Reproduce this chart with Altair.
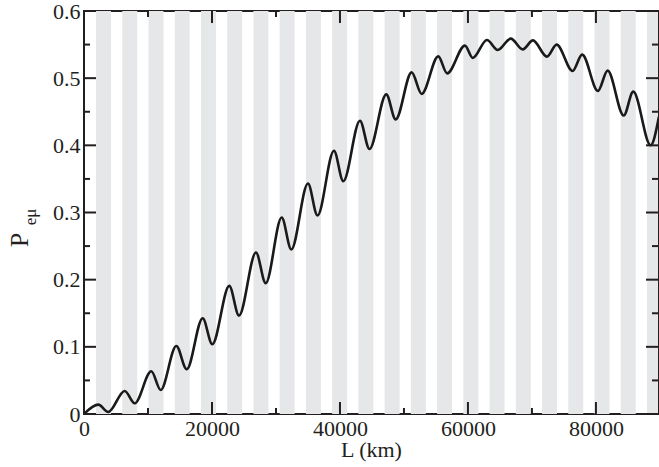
import altair as alt
import pandas as pd

# curve: local extrema
L_km = [0, 2234, 3797, 6359, 7922, 10516, 11984, 14422, 16047, 18547, 20047,
        22703, 24219, 26875, 28391, 30891, 32391, 35000, 36484, 39063, 40516,
        43125, 44609, 47234, 48703, 51203, 52766, 55359, 56750, 59531, 60750,
        62969, 64656, 66688, 68563, 70156, 72344, 73859, 76359, 77844, 80313,
        81828, 84344, 85828, 88547, 89844]
P_emu = [0.0, 0.0139, 0.0030, 0.0343, 0.0159, 0.0636, 0.0358, 0.1013, 0.0666, 0.1426, 0.1039,
         0.1908, 0.1465, 0.2404, 0.1948, 0.2925, 0.2449, 0.3431, 0.2955, 0.3920, 0.3465,
         0.4367, 0.3945, 0.4759, 0.4386, 0.5086, 0.4765, 0.5325, 0.5071, 0.5484, 0.5301,
         0.5569, 0.5420, 0.5589, 0.5429, 0.5563, 0.5320, 0.5499, 0.5107, 0.5350, 0.4811,
         0.5112, 0.4444, 0.4799, 0.4001, 0.4426]

# shaded bands
band_start = [1880, 5980, 10080, 14180, 18280, 22380, 26480, 30580, 34680, 38780, 42880,
              46980, 51080, 55180, 59280, 63380, 67480, 71580, 75680, 79780, 83880, 87980]
band_end = [4220, 8320, 12420, 16520, 20620, 24720, 28820, 32920, 37020, 41120, 45220,
            49320, 53420, 57520, 61620, 65720, 69820, 73920, 78020, 82120, 86220, 90320]

x_major = [0, 20000, 40000, 60000, 80000]
x_minor = [10000, 30000, 50000, 70000]
y_major = [0, 0.1, 0.2, 0.3, 0.4, 0.5, 0.6]
y_minor = [0.05, 0.15, 0.25, 0.35, 0.45, 0.55]

W, H = 574, 403
XMAX = 89700
FONT = "Liberation Serif"

xs = alt.Scale(domain=[0, XMAX], nice=False, zero=False)
ys = alt.Scale(domain=[0, 0.6], nice=False)

curve = pd.DataFrame({"L": L_km, "P": P_emu})
bands = pd.DataFrame({"a": band_start, "b": band_end})

band_layer = alt.Chart(bands).mark_rect(color="#e6e7e9", clip=True).encode(
    x=alt.X("a:Q", scale=xs,
            axis=alt.Axis(values=x_major, format="d", ticks=False, domain=False, grid=False,
                          labelFont=FONT, labelFontSize=22, labelColor="#231f20",
                          labelPadding=4, title="L (km)", titleFont=FONT, titleFontSize=22,
                          titleFontWeight="normal", titleColor="#231f20", titlePadding=0,
                          labelFlush=False)),
    x2="b:Q",
    y=alt.value(0), y2=alt.value(H),
)

line_layer = alt.Chart(curve).mark_line(color="#1a1a1a", strokeWidth=2.6,
                                         interpolate="monotone", clip=True).encode(
    x=alt.X("L:Q", scale=xs),
    y=alt.Y("P:Q", scale=ys,
            axis=alt.Axis(values=y_major, format="~f", ticks=False, domain=False, grid=False,
                          labelFont=FONT, labelFontSize=22, labelColor="#231f20",
                          labelPadding=4, title=None, labelFlush=False)),
)

tc = "#231f20"
xmaj = pd.DataFrame({"v": x_major})
xmin = pd.DataFrame({"v": x_minor})
ymaj = pd.DataFrame({"v": y_major})
ymin = pd.DataFrame({"v": y_minor})

def xticks(df, ln):
    base = alt.Chart(df).mark_rule(color=tc, strokeWidth=2)
    return (base.encode(x=alt.X("v:Q", scale=xs), y=alt.value(H), y2=alt.value(H - ln))
            + base.encode(x=alt.X("v:Q", scale=xs), y=alt.value(0), y2=alt.value(ln)))

def yticks(df, ln):
    base = alt.Chart(df).mark_rule(color=tc, strokeWidth=2)
    return (base.encode(y=alt.Y("v:Q", scale=ys), x=alt.value(0), x2=alt.value(ln))
            + base.encode(y=alt.Y("v:Q", scale=ys), x=alt.value(W), x2=alt.value(W - ln)))

ttl = pd.DataFrame({"t": ["P"]})
sub = pd.DataFrame({"t": ["eμ"]})
p_text = alt.Chart(ttl).mark_text(font=FONT, fontSize=26, angle=270, align="center",
                                   baseline="middle", color=tc).encode(
    text="t:N", x=alt.value(-64), y=alt.value(229))
s_text = alt.Chart(sub).mark_text(font=FONT, fontSize=17, angle=270, align="center",
                                   baseline="middle", color=tc).encode(
    text="t:N", x=alt.value(-53), y=alt.value(206))

chart = alt.layer(
    band_layer, line_layer,
    xticks(xmaj, 12), xticks(xmin, 6), yticks(ymaj, 12), yticks(ymin, 6),
    p_text, s_text,
).resolve_scale(x="shared", y="shared").properties(
    width=W, height=H,
    autosize=alt.AutoSizeParams(type="none"),
    padding={"left": 84, "top": 11, "right": 1, "bottom": 53},
    background="white",
).configure_view(stroke=tc, strokeWidth=2)

chart.save("out.html", embed_options={"renderer": "svg", "actions": False})
